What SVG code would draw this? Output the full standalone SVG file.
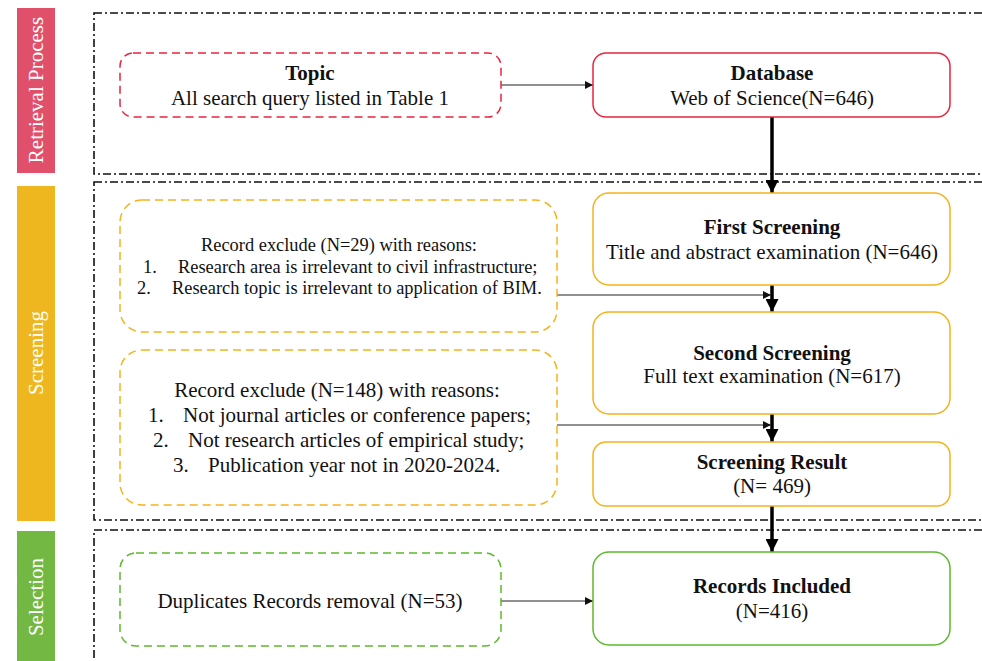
<svg xmlns="http://www.w3.org/2000/svg" width="982" height="661" viewBox="0 0 982 661">
  <style>
    text { font-family: 'Liberation Serif', 'DejaVu Serif', serif; fill: #111; }
    .bar { font-size: 21px; fill: #fff; }
    .t { font-size: 21px; }
    .b { font-size: 21px; font-weight: bold; }
    .s { font-size: 18.4px; }
    .m { font-size: 21px; }
    .sec { fill: none; stroke: #111; stroke-width: 1.6; stroke-dasharray: 8 3 2 3; }
    .red-d { fill: #fff; stroke: #e8253f; stroke-width: 1.5; stroke-dasharray: 8 5; }
    .red { fill: #fff; stroke: #e8253f; stroke-width: 1.5; }
    .org-d { fill: #fff; stroke: #f5b21a; stroke-width: 1.5; stroke-dasharray: 8 5; }
    .org { fill: #fff; stroke: #f5b21a; stroke-width: 1.5; }
    .grn-d { fill: #fff; stroke: #5db82e; stroke-width: 1.5; stroke-dasharray: 8 5; }
    .grn { fill: #fff; stroke: #5db82e; stroke-width: 1.5; }
    .thin { stroke: #222; stroke-width: 1.2; fill: none; marker-end: url(#ah); }
    .thick { stroke: #000; stroke-width: 3.5; fill: none; marker-end: url(#ahb); }
  </style>
  <defs>
    <marker id="ah" viewBox="0 0 10 10" refX="10" refY="5" markerWidth="8" markerHeight="8" markerUnits="userSpaceOnUse" orient="auto">
      <path d="M0,0 L10,5 L0,10 z" fill="#111"/>
    </marker>
    <marker id="ahb" viewBox="0 0 10 10" refX="10" refY="5" markerWidth="13" markerHeight="13" markerUnits="userSpaceOnUse" orient="auto">
      <path d="M0,0 L10,5 L0,10 z" fill="#000"/>
    </marker>
  </defs>
  <rect width="982" height="661" fill="#fff"/>

  <g font-family="Liberation Serif, DejaVu Serif, serif">
  <!-- phase bars -->
  <g id="bar-retrieval">
    <rect x="17" y="8" width="38" height="165" fill="#e0506a"/>
    <text class="bar" transform="translate(43,90) rotate(-90)" text-anchor="middle">Retrieval Process</text>
  </g>
  <g id="bar-screening">
    <rect x="17" y="186" width="38" height="335" fill="#eeb71f"/>
    <text class="bar" transform="translate(43,353) rotate(-90)" text-anchor="middle">Screening</text>
  </g>
  <g id="bar-selection">
    <rect x="17" y="531" width="38" height="135" fill="#72b843"/>
    <text class="bar" transform="translate(43,597) rotate(-90)" text-anchor="middle">Selection</text>
  </g>

  <!-- phase frames -->
  <g id="frames">
    <rect class="sec" x="94" y="13" width="1000" height="161"/>
    <rect class="sec" x="94" y="182" width="1000" height="338"/>
    <rect class="sec" x="94" y="530" width="1000" height="200"/>
  </g>

  <!-- connectors -->
  <g id="connectors">
    <line class="thin" x1="500" y1="85" x2="593" y2="85"/>
    <line class="thick" x1="772" y1="117" x2="772" y2="193"/>
    <line class="thick" x1="772" y1="285" x2="772" y2="312"/>
    <line class="thick" x1="772" y1="414" x2="772" y2="442"/>
    <line class="thick" x1="772" y1="506" x2="772" y2="552"/>
    <line class="thin" x1="557" y1="295" x2="771" y2="295"/>
    <line class="thin" x1="557" y1="425" x2="771" y2="425"/>
    <line class="thin" x1="500" y1="601" x2="593" y2="601"/>
  </g>

  <g id="topic">
    <rect class="red-d" x="120" y="53" width="381" height="64" rx="13"/>
    <text class="b" x="310" y="80" text-anchor="middle">Topic</text>
    <text class="t" x="310" y="105" text-anchor="middle">All search query listed in Table 1</text>
  </g>
  <g id="database">
    <rect class="red" x="593" y="53" width="357" height="64" rx="13"/>
    <text class="b" x="772" y="80" text-anchor="middle">Database</text>
    <text class="t" x="772" y="105" text-anchor="middle">Web  of Science(N=646)</text>
  </g>

  <g id="exclude-1">
    <rect class="org-d" x="120" y="200" width="437" height="132" rx="22"/>
    <text class="s" x="339" y="251" text-anchor="middle">Record exclude (N=29) with reasons:</text>
    <text class="s" x="143" y="273">1.</text>
    <text class="s" x="178" y="273">Research area is irrelevant  to civil infrastructure;</text>
    <text class="s" x="137" y="294">2.</text>
    <text class="s" x="172" y="294">Research topic is irrelevant  to application of BIM.</text>
  </g>
  <g id="exclude-2">
    <rect class="org-d" x="120" y="350" width="437" height="155" rx="22"/>
    <text class="m" x="337" y="397" text-anchor="middle">Record exclude (N=148) with reasons:</text>
    <text class="m" x="148" y="422">1.</text>
    <text class="m" x="183" y="422">Not journal articles or conference papers;</text>
    <text class="m" x="153" y="447">2.</text>
    <text class="m" x="188" y="447">Not research articles of empirical study;</text>
    <text class="m" x="173" y="472">3.</text>
    <text class="m" x="208" y="472">Publication year not in 2020-2024.</text>
  </g>

  <g id="first-screening">
    <rect class="org" x="593" y="193" width="357" height="92" rx="16"/>
    <text class="b" x="772" y="234" text-anchor="middle">First Screening</text>
    <text class="t" x="772" y="259" text-anchor="middle">Title and abstract examination (N=646)</text>
  </g>
  <g id="second-screening">
    <rect class="org" x="593" y="312" width="357" height="102" rx="16"/>
    <text class="b" x="772" y="360" text-anchor="middle">Second Screening</text>
    <text class="t" x="772" y="383" text-anchor="middle">Full text examination  (N=617)</text>
  </g>
  <g id="screening-result">
    <rect class="org" x="593" y="442" width="357" height="64" rx="13"/>
    <text class="b" x="772" y="469" text-anchor="middle">Screening Result</text>
    <text class="t" x="772" y="493" text-anchor="middle">(N= 469)</text>
  </g>

  <g id="duplicates">
    <rect class="grn-d" x="120" y="553" width="381" height="93" rx="16"/>
    <text class="m" x="310" y="608" text-anchor="middle">Duplicates Records removal (N=53)</text>
  </g>
  <g id="records-included">
    <rect class="grn" x="593" y="552" width="357" height="93" rx="16"/>
    <text class="b" x="772" y="593" text-anchor="middle">Records Included</text>
    <text class="t" x="772" y="618" text-anchor="middle">(N=416)</text>
  </g>
  </g>
</svg>
